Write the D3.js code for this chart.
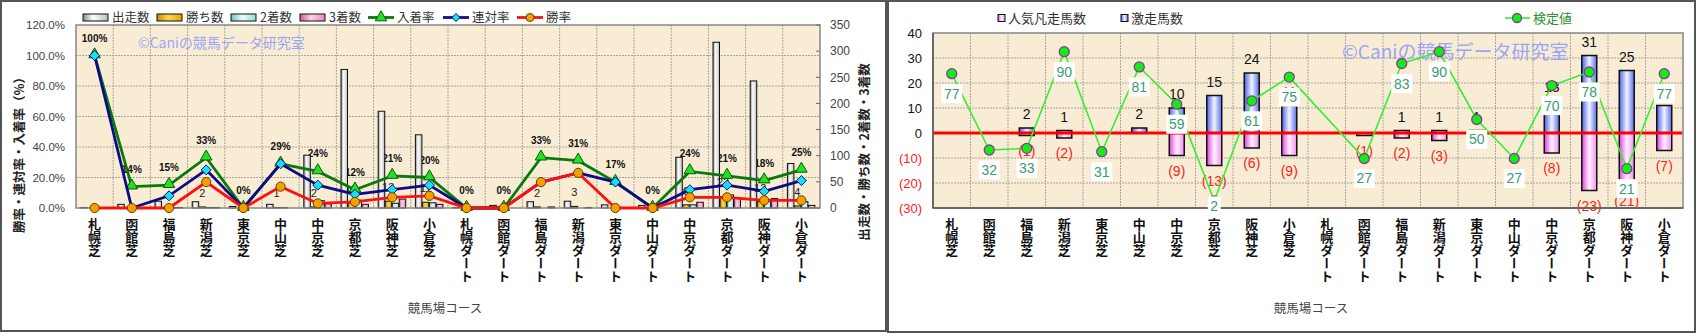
<!DOCTYPE html>
<html>
<head>
<meta charset="utf-8">
<script src="https://cdn.jsdelivr.net/npm/d3@7"></script>
<style>
  body { margin: 0; background: #fff; }
  svg { display: block; font-family: "Liberation Sans", "Noto Sans CJK JP", sans-serif; }
  .jp { font-family: "Noto Sans CJK JP", sans-serif; }
</style>
</head>
<body>
<svg id="chart" width="1699" height="334"></svg>
<script>
// ---- data ----
const courses = ['札幌芝','函館芝','福島芝','新潟芝','東京芝','中山芝','中京芝','京都芝','阪神芝','小倉芝',
  '札幌ダート','函館ダート','福島ダート','新潟ダート','東京ダート','中山ダート','中京ダート','京都ダート','阪神ダート','小倉ダート'];

// left chart, counts (right axis)
const runs   = [1, 7, 13, 12, 3, 7, 101, 265, 185, 140, 1, 5, 12, 13, 6, 5, 97, 317, 243, 85];
const wins   = [0, 0, 0, 2, 0, 1, 2, 10, 13, 11, 0, 0, 2, 3, 0, 0, 6, 22, 12, 4];
const second = [1, 0, 1, 1, 0, 1, 14, 15, 9, 10, 0, 0, 0, 0, 1, 0, 6, 25, 14, 12];
const third  = [0, 1, 1, 1, 0, 0, 8, 7, 17, 7, 0, 0, 2, 1, 0, 0, 11, 20, 18, 5];
// left chart, rates in % (left axis)
const placeRate  = [100, 14, 15, 33, 0, 29, 24, 12, 21, 20, 0, 0, 33, 31, 17, 0, 24, 21, 18, 25];
const rentaiRate = [100, 0, 8, 25, 0, 29, 15, 9, 12, 15, 0, 0, 17, 23, 17, 0, 12, 15, 11, 18];
const winRate    = [0, 0, 0, 17, 0, 14, 3, 4, 7, 8, 0, 0, 17, 23, 0, 0, 7, 7, 5, 5];
const rateTicks  = [0, 20, 40, 60, 80, 100, 120];
const countTicks = [0, 50, 100, 150, 200, 250, 300, 350];

// right chart
const gekisou = [0, 0, 2, 1, 0, 2, 10, 15, 24, 11, 0, 0, 1, 1, 1, 0, 13, 31, 25, 11];
const bonsou  = [0, 0, 1, 2, 0, 0, 9, 13, 6, 9, 0, 1, 2, 3, 0, 0, 8, 23, 21, 7];
const kentei  = [77, 32, 33, 90, 31, 81, 59, 2, 61, 75, null, 27, 83, 90, 50, 27, 70, 78, 21, 77];
const diffTicks = [-30, -20, -10, 0, 10, 20, 30, 40];

const svg = d3.select('#chart');
const defs = svg.append('defs');

function grad(id, stops) {
  const g = defs.append('linearGradient').attr('id', id)
    .attr('x1', 0).attr('x2', 1).attr('y1', 0).attr('y2', 0);
  stops.forEach(([o, c]) => g.append('stop').attr('offset', o).attr('stop-color', c));
}
grad('gWhite', [[0, '#8c8c8c'], [0.4, '#ffffff'], [1, '#bdbdbd']]);
grad('gGold',  [[0, '#c58800'], [0.45, '#ffd94a'], [1, '#e3a400']]);
grad('gCyan',  [[0, '#6fc2c2'], [0.45, '#eaffff'], [1, '#98dada']]);
grad('gPink',  [[0, '#cf5c9c'], [0.45, '#ffd2ea'], [1, '#e585bd']]);
grad('gBlue',  [[0, '#4b5ee6'], [0.5, '#f2f4ff'], [1, '#5a6cec']]);
grad('gMag',   [[0, '#e23ee2'], [0.5, '#fff2ff'], [1, '#f090f0']]);

// panels
svg.append('rect').attr('x', 1).attr('y', 1).attr('width', 885).attr('height', 330)
  .attr('fill', '#fff').attr('stroke', '#555').attr('stroke-width', 2);
svg.append('rect').attr('x', 888).attr('y', 1).attr('width', 807).attr('height', 331)
  .attr('fill', '#fff').attr('stroke', '#555').attr('stroke-width', 2);

function plotFrame(g, box, band, yTicksPx) {
  g.append('rect')
    .attr('x', box.left).attr('y', box.top)
    .attr('width', box.right - box.left).attr('height', box.bottom - box.top)
    .attr('fill', '#f8edd4');
  g.selectAll('.hgrid').data(yTicksPx).join('line')
    .attr('x1', box.left).attr('x2', box.right)
    .attr('y1', d => d).attr('y2', d => d)
    .attr('stroke', '#aaa49a').attr('stroke-dasharray', '2,1');
  g.selectAll('.vgrid').data(d3.range(1, courses.length)).join('line')
    .attr('x1', i => band(i)).attr('x2', i => band(i))
    .attr('y1', box.top).attr('y2', box.bottom)
    .attr('stroke', '#aaa49a').attr('stroke-dasharray', '2,1');
}

function xLabels(g, cx, title, titleX) {
  g.selectAll('.xlab').data(courses).join('text')
    .attr('class', 'jp')
    .attr('x', (d, i) => cx(i)).attr('y', 218)
    .style('writing-mode', 'vertical-rl')
    .attr('font-size', 13).attr('font-weight', 'bold').attr('fill', '#111')
    .text(d => d);
  g.append('text').attr('class', 'jp')
    .attr('x', titleX).attr('y', 313)
    .attr('text-anchor', 'middle').attr('font-size', 12.5).attr('fill', '#444')
    .text(title);
}

// ================= left chart =================
const L = { left: 76, right: 820, top: 25, bottom: 208 };
const xL = d3.scaleBand().domain(d3.range(courses.length)).range([L.left, L.right]);
const cxL = i => xL(i) + xL.bandwidth() / 2;
const yL = d3.scaleLinear().domain([0, 120]).range([L.bottom, L.top]);
const yC = d3.scaleLinear().domain([0, 350]).range([L.bottom, L.top]);

const gL = svg.append('g');
plotFrame(gL, L, xL, rateTicks.slice(1, -1).map(yL));

gL.append('text').attr('class', 'jp')
  .attr('x', 138).attr('y', 48).attr('font-size', 14).attr('fill', '#9ea4f6')
  .text('©Caniの競馬データ研究室');

// place-rate labels (under bars)
gL.selectAll('.plab').data(placeRate).join('text')
  .attr('x', (d, i) => cxL(i)).attr('y', d => yL(d) - 14)
  .attr('text-anchor', 'middle').attr('font-size', 10).attr('font-weight', 'bold')
  .attr('fill', '#111')
  .text(d => d + '%');

// bars
const barSeries = [
  { values: runs, fill: 'url(#gWhite)' },
  { values: wins, fill: 'url(#gGold)' },
  { values: second, fill: 'url(#gCyan)' },
  { values: third, fill: 'url(#gPink)' }
];
barSeries.forEach((s, k) => {
  gL.append('g').selectAll('rect')
    .data(s.values.map((v, i) => ({ v, i })).filter(d => d.v > 0))
    .join('rect')
      .attr('x', d => cxL(d.i) - 14 + k * 7)
      .attr('y', d => yC(d.v))
      .attr('width', 6.5)
      .attr('height', d => yC(0) - yC(d.v))
      .attr('fill', s.fill)
      .attr('stroke', '#111').attr('stroke-width', 1);
});

// win count labels
gL.selectAll('.wlab').data(wins.map((v, i) => ({ v, i })).filter(d => d.v > 0)).join('text')
  .attr('x', d => cxL(d.i) - 4).attr('y', d => yC(d.v) - 10)
  .attr('text-anchor', 'middle').attr('font-size', 11).attr('fill', '#222')
  .text(d => d.v);

// plot border
gL.append('rect').attr('x', L.left).attr('y', L.top)
  .attr('width', L.right - L.left).attr('height', L.bottom - L.top)
  .attr('fill', 'none').attr('stroke', '#888').attr('stroke-width', 1.5);
gL.selectAll('.rtick').data(countTicks).join('line')
  .attr('x1', L.right - 4).attr('x2', L.right)
  .attr('y1', d => yC(d)).attr('y2', d => yC(d)).attr('stroke', '#666');

// lines + markers
const lineL = d3.line().x((d, i) => cxL(i)).y(d => yL(d));
const triangle = d3.symbol().type(d3.symbolTriangle).size(58);
const diamond = 'M0,-5L5,0L0,5L-5,0Z';

function rateSeries(values, color, marker) {
  const g = gL.append('g');
  g.append('path').datum(values).attr('d', lineL)
    .attr('fill', 'none').attr('stroke', color).attr('stroke-width', 2.8);
  const m = g.selectAll('.m').data(values).join('g')
    .attr('transform', (d, i) => `translate(${cxL(i)},${yL(d)})`);
  marker(m);
}
rateSeries(placeRate, '#0a7a0a', m => m.append('path').attr('d', triangle())
  .attr('transform', 'translate(0,-1)')
  .attr('fill', '#22e022').attr('stroke', '#0a5a0a').attr('stroke-width', 1));
rateSeries(rentaiRate, '#0c0c84', m => m.append('path').attr('d', diamond)
  .attr('fill', '#18e0f0').attr('stroke', '#0c0c84').attr('stroke-width', 1));
rateSeries(winRate, '#ff1010', m => m.append('circle').attr('r', 4.6)
  .attr('fill', '#f5a000').attr('stroke', '#6a4000').attr('stroke-width', 1));

// axes
gL.append('g').attr('transform', `translate(${L.left},0)`)
  .call(d3.axisLeft(yL).tickValues(rateTicks).tickFormat(d => d.toFixed(1) + '%').tickSize(0).tickPadding(11))
  .call(g => g.select('.domain').remove())
  .call(g => g.selectAll('text').attr('font-size', 11.5).attr('fill', '#444')
    .attr('font-family', '"Liberation Sans", sans-serif'));
gL.append('g').attr('transform', `translate(${L.right},0)`)
  .call(d3.axisRight(yC).tickValues(countTicks).tickSize(0).tickPadding(10))
  .call(g => g.select('.domain').remove())
  .call(g => g.selectAll('text').attr('font-size', 12).attr('fill', '#444')
    .attr('font-family', '"Liberation Sans", sans-serif'));

gL.append('text').attr('class', 'jp')
  .attr('transform', 'translate(18,152) rotate(-90)')
  .attr('text-anchor', 'middle').attr('dominant-baseline', 'central')
  .attr('font-size', 12.5).attr('font-weight', 'bold').attr('fill', '#222')
  .text('勝率・連対率・入着率（%）');
gL.append('text').attr('class', 'jp')
  .attr('transform', 'translate(863,152) rotate(-90)')
  .attr('text-anchor', 'middle').attr('dominant-baseline', 'central')
  .attr('font-size', 12.5).attr('font-weight', 'bold').attr('fill', '#222')
  .text('出走数・勝ち数・2着数・3着数');

xLabels(gL, cxL, '競馬場コース', 445);

// legend
const legL = gL.append('g').attr('class', 'jp').attr('font-size', 12.5).attr('fill', '#333');
[['出走数', 'url(#gWhite)', 83], ['勝ち数', 'url(#gGold)', 157], ['2着数', 'url(#gCyan)', 231], ['3着数', 'url(#gPink)', 300]]
  .forEach(([name, fill, x]) => {
    legL.append('rect').attr('x', x).attr('y', 14).attr('width', 25).attr('height', 7)
      .attr('fill', fill).attr('stroke', '#111');
    legL.append('text').attr('x', x + 29).attr('y', 22).text(name);
  });
[['入着率', '#0a7a0a', 368], ['連対率', '#0c0c84', 443], ['勝率', '#ff1010', 517]]
  .forEach(([name, color, x], k) => {
    legL.append('line').attr('x1', x).attr('x2', x + 26).attr('y1', 17.5).attr('y2', 17.5)
      .attr('stroke', color).attr('stroke-width', 2.8);
    const m = legL.append('g').attr('transform', `translate(${x + 13},17.5)`);
    if (k === 0) m.append('path').attr('d', triangle()).attr('fill', '#22e022').attr('stroke', '#0a5a0a');
    if (k === 1) m.append('path').attr('d', 'M0,-4L4,0L0,4L-4,0Z').attr('fill', '#18e0f0').attr('stroke', '#0c0c84');
    if (k === 2) m.append('circle').attr('r', 4).attr('fill', '#f5a000').attr('stroke', '#6a4000');
    legL.append('text').attr('x', x + 29).attr('y', 22).text(name);
  });

// ================= right chart =================
const R = { left: 933, right: 1683, top: 33, bottom: 208 };
const xR = d3.scaleBand().domain(d3.range(courses.length)).range([R.left, R.right]);
const cxR = i => xR(i) + xR.bandwidth() / 2;
const yD = d3.scaleLinear().domain([-30, 40]).range([R.bottom, R.top]);
const yK = d3.scaleLinear().domain([-2.2, 101]).range([R.bottom, R.top]);

const gR = svg.append('g');
plotFrame(gR, R, xR, diffTicks.slice(1, -1).map(yD));

gR.append('text').attr('class', 'jp')
  .attr('x', 1342).attr('y', 59).attr('font-size', 19).attr('fill', '#9ea4f6')
  .text('©Caniの競馬データ研究室');

const bw = 15;
gR.append('g').selectAll('rect')
  .data(gekisou.map((v, i) => ({ v, i })).filter(d => d.v > 0))
  .join('rect')
    .attr('x', d => cxR(d.i) - bw / 2).attr('y', d => yD(d.v))
    .attr('width', bw).attr('height', d => yD(0) - yD(d.v))
    .attr('fill', 'url(#gBlue)').attr('stroke', '#111').attr('stroke-width', 1.5);
gR.append('g').selectAll('rect')
  .data(bonsou.map((v, i) => ({ v, i })).filter(d => d.v > 0))
  .join('rect')
    .attr('x', d => cxR(d.i) - bw / 2).attr('y', yD(0))
    .attr('width', bw).attr('height', d => yD(-d.v) - yD(0))
    .attr('fill', 'url(#gMag)').attr('stroke', '#111').attr('stroke-width', 1.5);

gR.selectAll('.glab').data(gekisou.map((v, i) => ({ v, i })).filter(d => d.v > 0)).join('text')
  .attr('x', d => cxR(d.i)).attr('y', d => yD(d.v) - 9)
  .attr('text-anchor', 'middle').attr('font-size', 14).attr('fill', '#111')
  .text(d => d.v);
gR.selectAll('.blab').data(bonsou.map((v, i) => ({ v, i })).filter(d => d.v > 0)).join('text')
  .attr('x', d => cxR(d.i)).attr('y', d => yD(-d.v) + 20)
  .attr('text-anchor', 'middle').attr('font-size', 14).attr('fill', '#ff2020')
  .text(d => `(${d.v})`);

gR.append('line').attr('x1', R.left).attr('x2', R.right)
  .attr('y1', yD(0)).attr('y2', yD(0))
  .attr('stroke', '#ff0000').attr('stroke-width', 3);

gR.append('rect').attr('x', R.left).attr('y', R.top)
  .attr('width', R.right - R.left).attr('height', R.bottom - R.top)
  .attr('fill', 'none').attr('stroke', '#999').attr('stroke-width', 1.8);
gR.append('line').attr('x1', R.left).attr('x2', R.left).attr('y1', R.top).attr('y2', R.bottom)
  .attr('stroke', '#555').attr('stroke-width', 1.5);
gR.append('line').attr('x1', R.left).attr('x2', R.right).attr('y1', R.bottom).attr('y2', R.bottom)
  .attr('stroke', '#555').attr('stroke-width', 1.5);

const kPts = kentei.map((v, i) => ({ v, i })).filter(d => d.v !== null);
gR.append('path').datum(kPts)
  .attr('d', d3.line().x(d => cxR(d.i)).y(d => yK(d.v)))
  .attr('fill', 'none').attr('stroke', '#33ee33').attr('stroke-width', 1.6);
gR.selectAll('.km').data(kPts).join('circle')
  .attr('cx', d => cxR(d.i)).attr('cy', d => yK(d.v)).attr('r', 5)
  .attr('fill', '#11ee11').attr('stroke', '#8a3a9a').attr('stroke-width', 1.3);
const kl = gR.selectAll('.kl').data(kPts).join('g')
  .attr('transform', d => `translate(${cxR(d.i)},${Math.min(yK(d.v) + 20, 206)})`);
kl.append('rect')
  .attr('x', d => -(String(d.v).length * 8 + 5) / 2).attr('y', -9.5)
  .attr('width', d => String(d.v).length * 8 + 5).attr('height', 19)
  .attr('fill', '#fff');
kl.append('text').attr('text-anchor', 'middle').attr('y', 5)
  .attr('font-size', 14).attr('fill', '#3a9a72')
  .text(d => d.v);

gR.append('g').attr('transform', `translate(${R.left},0)`)
  .call(d3.axisLeft(yD).tickValues(diffTicks).tickFormat(d => d < 0 ? `(${-d})` : d).tickSize(0).tickPadding(11))
  .call(g => g.select('.domain').remove())
  .call(g => g.selectAll('text').attr('font-size', 13)
    .attr('font-family', '"Liberation Sans", sans-serif')
    .attr('fill', d => d < 0 ? '#ff2020' : '#111'));

xLabels(gR, cxR, '競馬場コース', 1311);

// legend
const legR = gR.append('g').attr('class', 'jp').attr('font-size', 13).attr('fill', '#333');
[['人気凡走馬数', 'url(#gMag)', 998], ['激走馬数', 'url(#gBlue)', 1121]].forEach(([name, fill, x]) => {
  legR.append('rect').attr('x', x).attr('y', 14.5).attr('width', 7).attr('height', 7)
    .attr('fill', fill).attr('stroke', '#111');
  legR.append('text').attr('x', x + 10).attr('y', 23).text(name);
});
legR.append('line').attr('x1', 1505).attr('x2', 1530).attr('y1', 18).attr('y2', 18)
  .attr('stroke', '#33ee33').attr('stroke-width', 1.6);
legR.append('circle').attr('cx', 1517).attr('cy', 18).attr('r', 4.5)
  .attr('fill', '#11ee11').attr('stroke', '#8a3a9a').attr('stroke-width', 1.3);
legR.append('text').attr('x', 1533).attr('y', 23).attr('fill', '#2f8f2f').text('検定値');
</script>
</body>
</html>
